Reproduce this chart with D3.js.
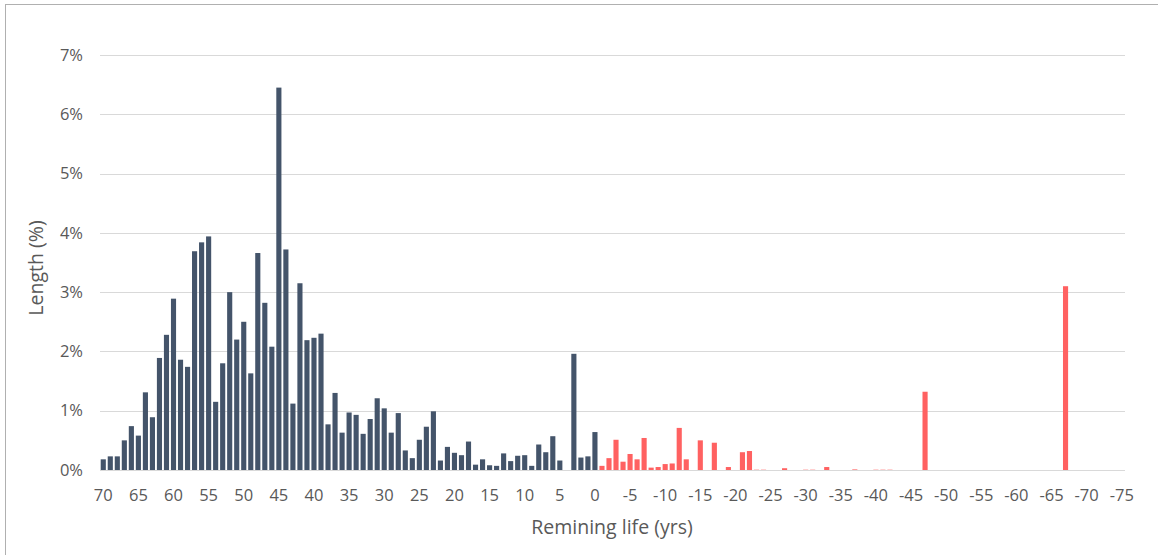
<!DOCTYPE html>
<html>
<head>
<meta charset="utf-8">
<script src="https://cdn.jsdelivr.net/npm/d3@7/dist/d3.min.js"></script>
<style>
  body { margin: 0; background: #fff; }
  svg { display: block; font-family: "Open Sans", sans-serif; }
</style>
</head>
<body>
<div id="chart"></div>
<script>
// years on the axis, 70 down to -75
var years = d3.range(70, -76, -1);

// % length with remaining life 70 .. 0
var lifeLeft = [
  0.18, 0.23, 0.23, 0.50, 0.74, 0.58, 1.31, 0.89, 1.89, 2.28,
  2.89, 1.86, 1.74, 3.69, 3.84, 3.94, 1.15, 1.80, 3.00, 2.20,
  2.50, 1.63, 3.66, 2.82, 2.08, 6.45, 3.72, 1.12, 3.15, 2.19,
  2.23, 2.30, 0.77, 1.30, 0.63, 0.97, 0.93, 0.61, 0.86, 1.21,
  1.04, 0.63, 0.96, 0.33, 0.20, 0.51, 0.73, 0.99, 0.16, 0.39,
  0.29, 0.25, 0.48, 0.09, 0.18, 0.08, 0.07, 0.28, 0.15, 0.24,
  0.25, 0.07, 0.43, 0.30, 0.57, 0.16, 0.00, 1.96, 0.21, 0.23,
  0.64
];

// % length past its life, -1 .. -75
var pastLife = [
  0.07, 0.20, 0.51, 0.14, 0.27, 0.18, 0.54, 0.04, 0.05, 0.10,
  0.11, 0.71, 0.18, 0.00, 0.50, 0.00, 0.46, 0.00, 0.05, 0.00,
  0.30, 0.32, 0.005, 0.005, 0.00, 0.00, 0.03, 0.00, 0.00, 0.005,
  0.005, 0.00, 0.05, 0.00, 0.00, 0.00, 0.01, 0.00, 0.00, 0.005,
  0.005, 0.005, 0.00, 0.00, 0.00, 0.00, 1.32, 0.00, 0.00, 0.00,
  0.00, 0.00, 0.00, 0.00, 0.00, 0.00, 0.00, 0.00, 0.00, 0.00,
  0.00, 0.00, 0.00, 0.00, 0.00, 0.00, 3.10, 0.00, 0.00, 0.00,
  0.00, 0.00, 0.00, 0.00, 0.00
];

var yTicks = [0, 1, 2, 3, 4, 5, 6, 7];

var width = 1158, height = 555;
var plotLeft = 100, plotRight = 1125, plotTop = 55, plotBottom = 470;

var data = years.map(function (yr, i) {
  return { year: yr, value: i < lifeLeft.length ? lifeLeft[i] : pastLife[i - lifeLeft.length] };
});

var svg = d3.select("#chart").append("svg")
  .attr("width", width)
  .attr("height", height);

// outer frame
svg.append("rect")
  .attr("x", 5.5).attr("y", 4.5)
  .attr("width", width).attr("height", height)
  .attr("fill", "none")
  .attr("stroke", "#B0B0B0");

var x = d3.scaleBand()
  .domain(years)
  .range([plotLeft, plotRight])
  .paddingInner(0.27)
  .paddingOuter(0.1);

var y = d3.scaleLinear()
  .domain([0, 7])
  .range([plotBottom, plotTop]);

// grid
svg.append("g").selectAll("line")
  .data(yTicks)
  .enter().append("line")
  .attr("x1", plotLeft).attr("x2", plotRight)
  .attr("y1", function (d) { return Math.round(y(d)) + 0.5; })
  .attr("y2", function (d) { return Math.round(y(d)) + 0.5; })
  .attr("stroke", "#D9D9D9")
  .attr("stroke-width", 1);

// y labels
svg.append("g").selectAll("text")
  .data(yTicks)
  .enter().append("text")
  .attr("x", 83)
  .attr("y", function (d) { return y(d); })
  .attr("dy", "0.35em")
  .attr("text-anchor", "end")
  .attr("font-size", 16.5)
  .attr("fill", "#595959")
  .text(function (d) { return d + "%"; });

// bars
svg.append("g").selectAll("rect")
  .data(data)
  .enter().append("rect")
  .attr("x", function (d) { return x(d.year); })
  .attr("width", x.bandwidth())
  .attr("y", function (d) { return y(d.value); })
  .attr("height", function (d) { return plotBottom - y(d.value); })
  .attr("fill", function (d) { return d.year < 0 ? "#FF6161" : "#44546A"; });

// x axis labels every 5 years
var xAxis = d3.axisBottom(x)
  .tickValues(years.filter(function (d) { return d % 5 === 0; }))
  .tickSize(0)
  .tickPadding(19);

var gx = svg.append("g")
  .attr("transform", "translate(0," + plotBottom + ")")
  .call(xAxis);
gx.select(".domain").remove();
gx.selectAll("text")
  .attr("font-size", 16.5)
  .attr("font-family", "'Open Sans', sans-serif")
  .attr("fill", "#595959");

// axis titles
svg.append("text")
  .attr("x", 612).attr("y", 534)
  .attr("text-anchor", "middle")
  .attr("font-size", 19.5)
  .attr("fill", "#595959")
  .text("Remining life (yrs)");

svg.append("text")
  .attr("transform", "translate(43,268) rotate(-90)")
  .attr("text-anchor", "middle")
  .attr("font-size", 19.5)
  .attr("fill", "#595959")
  .text("Length (%)");
</script>
</body>
</html>
